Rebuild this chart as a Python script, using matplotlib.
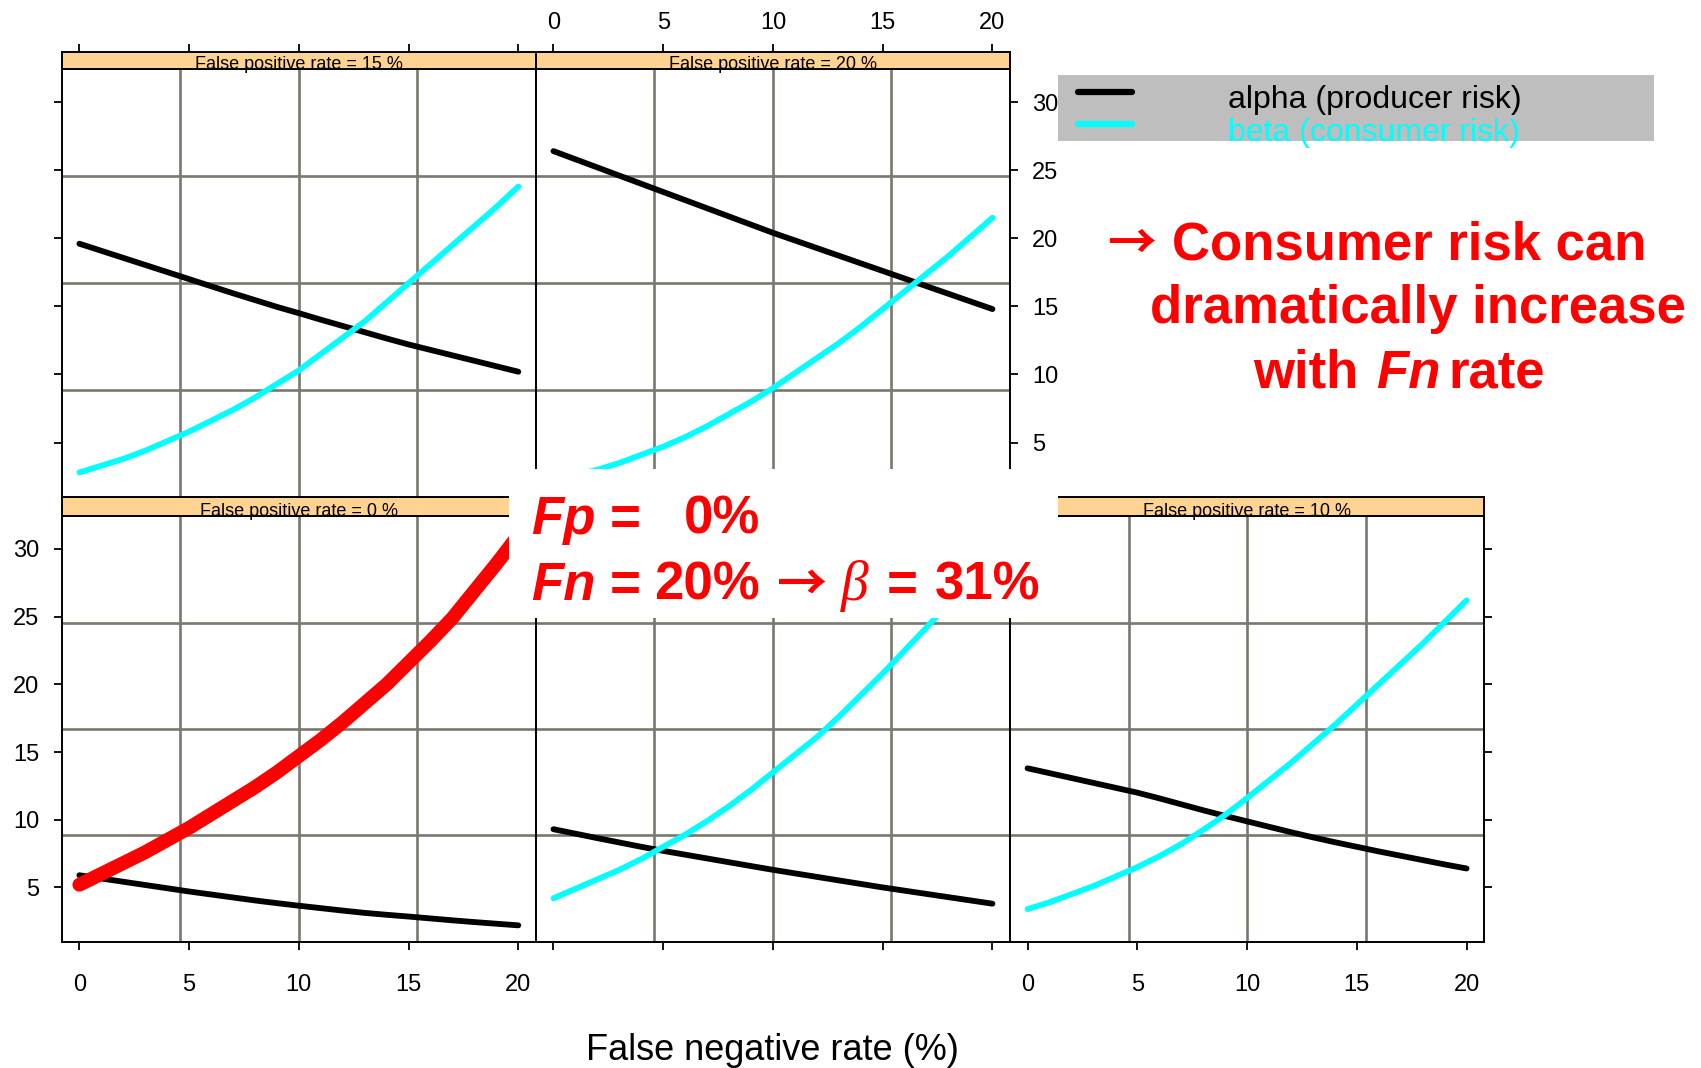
import numpy as np
import matplotlib
matplotlib.use("Agg")
import matplotlib.pyplot as plt
from matplotlib.lines import Line2D

plt.rcParams['font.family'] = ['Liberation Sans', 'DejaVu Sans']

# false negative rate (%) on the x axis
fn_rate = list(range(21))

# producer risk (alpha) and consumer risk (beta), % per false positive rate
alpha_fp0 = [5.9, 5.66, 5.42, 5.18, 4.94, 4.7, 4.48, 4.26, 4.04, 3.84, 3.65,
             3.47, 3.29, 3.12, 2.98, 2.85, 2.71, 2.57, 2.44, 2.32, 2.2]
beta_fp0 = [5.2, 6.0, 6.8, 7.6, 8.5, 9.4, 10.4, 11.4, 12.4, 13.5, 14.7,
            15.9, 17.2, 18.6, 20.0, 21.6, 23.2, 24.9, 26.9, 28.9, 31.0]
alpha_fp5 = [9.3, 8.97, 8.64, 8.32, 8.0, 7.7, 7.42, 7.14, 6.86, 6.58, 6.3,
             6.04, 5.78, 5.52, 5.26, 5.0, 4.76, 4.52, 4.28, 4.04, 3.8]
beta_fp5 = [4.2, 4.9, 5.6, 6.3, 7.1, 8.0, 8.9, 9.9, 11.0, 12.2, 13.5,
            14.8, 16.1, 17.6, 19.2, 20.8, 22.5, 24.2, 26.0, 28.0, 30.0]
alpha_fp10 = [13.8, 13.44, 13.08, 12.72, 12.36, 12.0, 11.58, 11.14, 10.7, 10.28, 9.88,
              9.48, 9.08, 8.7, 8.34, 8.0, 7.66, 7.34, 7.02, 6.7, 6.4]
beta_fp10 = [3.4, 3.9, 4.5, 5.1, 5.8, 6.5, 7.3, 8.2, 9.25, 10.35, 11.6,
             12.9, 14.2, 15.6, 17.0, 18.5, 20.0, 21.5, 23.0, 24.6, 26.2]
alpha_fp15 = [19.6, 19.08, 18.56, 18.04, 17.52, 17.0, 16.48, 15.96, 15.46, 14.96, 14.5,
              14.02, 13.56, 13.1, 12.64, 12.2, 11.8, 11.4, 11.0, 10.6, 10.2]
beta_fp15 = [2.8, 3.3, 3.8, 4.4, 5.1, 5.8, 6.6, 7.4, 8.3, 9.3, 10.3,
             11.5, 12.7, 13.9, 15.3, 16.7, 18.1, 19.5, 20.9, 22.3, 23.8]
alpha_fp20 = [26.4, 25.8, 25.2, 24.6, 24.0, 23.4, 22.8, 22.2, 21.6, 21.0, 20.4,
              19.84, 19.28, 18.72, 18.16, 17.6, 17.04, 16.48, 15.92, 15.36, 14.8]
beta_fp20 = [2.2, 2.6, 3.0, 3.5, 4.1, 4.7, 5.4, 6.2, 7.1, 8.0, 9.0,
             10.1, 11.2, 12.3, 13.5, 14.8, 16.1, 17.4, 18.7, 20.1, 21.5]

fp_rates = [0, 5, 10, 15, 20]
alphas = [alpha_fp0, alpha_fp5, alpha_fp10, alpha_fp15, alpha_fp20]
betas = [beta_fp0, beta_fp5, beta_fp10, beta_fp15, beta_fp20]

x_ticks = [0, 5, 10, 15, 20]
y_ticks = [5, 10, 15, 20, 25, 30]
xlim = (-0.8, 20.8)
ylim = (1.0, 32.4)

W, H = 1701, 1068
fig = plt.figure(figsize=(W / 100, H / 100), dpi=100)


def rect(x0, y0, x1, y1):
    return [x0 / W, 1 - y1 / H, (x1 - x0) / W, (y1 - y0) / H]


def put(x, y, s, **kw):
    return fig.text(x / W, 1 - y / H, s, **kw)


# pixel geometry of the lattice
col_x = [61.8, 535.9, 1010.0]
col_w = 474.1
rows = {
    'top': (52.0, 69.4, 497.0),      # strip top, panel top, panel bottom
    'bottom': (497.0, 516.4, 941.6),
}
# (row, col, bottom labels, left, left labels, right, right labels, top, top labels, bottom ticks)
layout = {
    0: ('bottom', 0, True, True, True, False, False, False, False, True),
    5: ('bottom', 1, False, False, False, False, False, False, False, True),
    10: ('bottom', 2, True, False, False, True, False, False, False, True),
    15: ('top', 0, False, True, False, False, False, True, False, False),
    20: ('top', 1, False, False, False, True, True, True, True, False),
}

grid_color = '#78786e'
strip_color = '#ffd391'
tick_kw = dict(direction='out', length=6, width=1.3, labelsize=17, colors='black')

for fp, alpha, beta in zip(fp_rates, alphas, betas):
    row, col, lab_b, left, lab_l, right, lab_r, top, lab_t, bot = layout[fp]
    s_top, p_top, p_bot = rows[row]
    x0 = col_x[col]
    x1 = x0 + col_w

    ax = fig.add_axes(rect(x0, p_top, x1, p_bot))
    ax.set_xlim(xlim)
    ax.set_ylim(ylim)
    for v in np.linspace(xlim[0], xlim[1], 5)[1:-1]:
        ax.axvline(v, color=grid_color, lw=1.9, zorder=1)
    for v in np.linspace(ylim[0], ylim[1], 5)[1:-1]:
        ax.axhline(v, color=grid_color, lw=1.9, zorder=1)
    ax.plot(fn_rate, alpha, color='black', lw=4.2, solid_capstyle='round', zorder=3)
    ax.plot(fn_rate, beta, color='cyan', lw=4.2, solid_capstyle='round', zorder=3)
    if fp == 0:
        # highlight of the consumer risk curve at Fp = 0
        ax.plot(fn_rate, beta, color='red', lw=10, solid_capstyle='round', zorder=4)

    ax.set_xticks(x_ticks)
    ax.set_yticks(y_ticks)
    ax.tick_params(axis='x', bottom=bot, top=False, labelbottom=lab_b, labeltop=False, pad=17, **tick_kw)
    ax.tick_params(axis='y', left=left, right=right, labelleft=lab_l, labelright=lab_r, pad=10, **tick_kw)
    for sp in ax.spines.values():
        sp.set_linewidth(1.4)
        sp.set_zorder(5)

    sax = fig.add_axes(rect(x0, s_top, x1, p_top))
    sax.set_facecolor(strip_color)
    sax.set_xlim(xlim)
    sax.set_ylim(0, 1)
    sax.set_xticks(x_ticks)
    sax.set_yticks([])
    sax.tick_params(axis='x', bottom=False, labelbottom=False, top=top, labeltop=lab_t, pad=7, **tick_kw)
    for sp in sax.spines.values():
        sp.set_linewidth(1.4)
    sax.text(0.5, 0.27, f'False positive rate = {fp} %', transform=sax.transAxes,
             ha='center', va='center', fontsize=13)

# legend
lax = fig.add_axes(rect(1058, 75, 1654, 141))
lax.set_facecolor('#bebebe')
lax.set_xlim(1058, 1654)
lax.set_ylim(141, 75)
lax.set_xticks([])
lax.set_yticks([])
for sp in lax.spines.values():
    sp.set_visible(False)
lax.add_line(Line2D([1078, 1132], [92, 92], color='black', lw=4.5, solid_capstyle='round'))
lax.add_line(Line2D([1078, 1132], [124, 124], color='cyan', lw=4.5, solid_capstyle='round'))
lax.text(1228, 100, 'alpha (producer risk)', color='black', fontsize=23, va='center', ha='left')
lax.text(1228, 133, 'beta (consumer risk)', color='cyan', fontsize=23, va='center', ha='left',
         clip_on=False)

# white box for the Fp / Fn note
bax = fig.add_axes(rect(509, 469, 1058, 618))
bax.set_facecolor('white')
bax.set_xticks([])
bax.set_yticks([])
for sp in bax.spines.values():
    sp.set_visible(False)
bax.set_zorder(2)

red = '#ff0000'
arrow_font = ['Noto Sans CJK JP', 'DejaVu Sans']
fs = 38
bi = dict(color=red, fontsize=fs, fontweight='bold', fontstyle='italic', va='baseline')
b = dict(color=red, fontsize=fs, fontweight='bold', va='baseline')
put(531, 534, 'Fp', ha='left', **bi)
put(610, 534, '=', ha='left', **b)
put(760, 534, '0%', ha='right', **b)
put(531, 600, 'Fn', ha='left', **bi)
put(610, 600, '=', ha='left', **b)
put(760, 600, '20%', ha='right', **b)
put(777, 600, '\u2192', ha='left', family=arrow_font, color=red, fontsize=36,
    fontweight='bold', va='baseline')
put(841, 600, '\u03b2', ha='left', color=red, fontsize=fs + 2, fontstyle='italic', va='baseline',
    family=['Liberation Serif', 'DejaVu Serif'])
put(887, 600, '=', ha='left', **b)
put(935, 600, '31%', ha='left', **b)

fs2 = 38
b2 = dict(color=red, fontsize=fs2, fontweight='bold', va='baseline')
put(1107, 259, '\u2192', ha='left', family=arrow_font, color=red, fontsize=35,
    fontweight='bold', va='baseline')
put(1172, 259, 'Consumer risk can', ha='left', **b2)
put(1150, 323, 'dramatically increase', ha='left', **b2)
put(1253, 388, 'with', ha='left', **b2)
put(1376, 388, 'Fn', ha='left', fontstyle='italic', **b2)
put(1448, 388, 'rate', ha='left', **b2)

put(772, 1050, 'False negative rate (%)', ha='center', va='center', fontsize=26)

fig.savefig('out.png', dpi=100, facecolor='white')
